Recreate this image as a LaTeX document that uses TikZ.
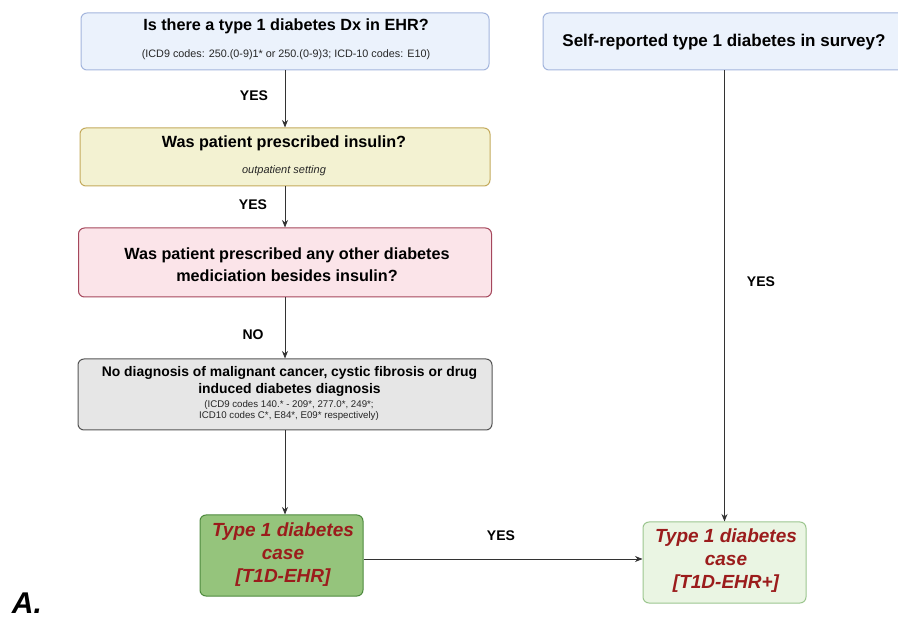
\documentclass[tikz,border=0pt]{standalone}
\usepackage{fontspec}
\setmainfont{Liberation Sans}
\usetikzlibrary{arrows.meta}
\definecolor{bfill}{HTML}{EBF2FC}
\definecolor{bdraw}{HTML}{A3B5DD}
\definecolor{yfill}{HTML}{F3F2D2}
\definecolor{ydraw}{HTML}{C4AA5C}
\definecolor{pfill}{HTML}{FBE4E9}
\definecolor{pdraw}{HTML}{A5475C}
\definecolor{gfill}{HTML}{E6E6E6}
\definecolor{gdraw}{HTML}{555555}
\definecolor{dgfill}{HTML}{95C47C}
\definecolor{dgdraw}{HTML}{4E8A3E}
\definecolor{lgfill}{HTML}{EAF5E3}
\definecolor{lgdraw}{HTML}{9CC68F}
\definecolor{casered}{HTML}{9B1C1C}
\definecolor{linec}{HTML}{333333}
\tikzset{
  boxbase/.style={rounded corners=6pt, line width=1pt, inner sep=0pt},
  titletxt/.style={font=\bfseries\fontsize{16.2}{22}\selectfont, align=center, inner sep=0pt, text=black},
  subtxt/.style={font=\fontsize{10.8}{13}\selectfont, align=center, inner sep=0pt, text=black!85},
  casetxt/.style={font=\bfseries\itshape\fontsize{19}{23}\selectfont, align=center, inner sep=0pt, text=casered},
  lbl/.style={font=\bfseries\fontsize{14}{16}\selectfont, inner sep=0pt},
  arr/.style={draw=linec, line width=0.9pt, -{Stealth[length=7.5pt,width=6pt]}},
}
\begin{document}
\begin{tikzpicture}[x=1pt,y=-1pt]
\useasboundingbox (0,0) rectangle (898,620);
\clip (0,0) rectangle (898,620);
% boxes
\node[boxbase, draw=bdraw, fill=bfill, minimum width=408, minimum height=57] (q1) at (285,41.5) {};
\node[titletxt] (q1t) at (286,26) {Is there a type 1 diabetes Dx in EHR?};
\node[subtxt] (q1s) at (286,55) {(ICD9 codes: 250.(0-9)1* or 250.(0-9)3; ICD-10 codes: E10)};

\node[boxbase, draw=ydraw, fill=yfill, minimum width=410, minimum height=58] (q2) at (285,157) {};
\node[titletxt] (q2t) at (284,143) {Was patient prescribed insulin?};
\node[subtxt, font=\itshape\fontsize{11}{13}\selectfont] (q2s) at (284,171) {outpatient setting};

\node[boxbase, draw=pdraw, fill=pfill, minimum width=413, minimum height=69] (q3) at (285,262.5) {};
\node[titletxt] (q3t) at (287,265) {Was patient prescribed any other diabetes\\mediciation besides insulin?};

\node[boxbase, draw=gdraw, fill=gfill, minimum width=414, minimum height=71] (q4) at (285,394.5) {};
\node[titletxt, font=\bfseries\fontsize{13.9}{17}\selectfont] (q4t) at (289.5,381) {No diagnosis of malignant cancer, cystic fibrosis or drug\\induced diabetes diagnosis};
\node[subtxt, font=\fontsize{9.7}{10.5}\selectfont] (q4s) at (289,410.5) {(ICD9 codes 140.* - 209*, 277.0*, 249*;\\ICD10 codes C*, E84*, E09* respectively)};

\node[boxbase, draw=dgdraw, fill=dgfill, minimum width=163, minimum height=81] (g1) at (281.5,555.5) {};
\node[casetxt] (g1t) at (283,555) {Type 1 diabetes\\case\\{}[T1D-EHR]};

\node[boxbase, draw=bdraw, fill=bfill, minimum width=366, minimum height=57] (sr) at (726,41.5) {};
\node[titletxt, font=\bfseries\fontsize{17}{20}\selectfont] (srt) at (724,42) {Self-reported type 1 diabetes in survey?};

\node[boxbase, draw=lgdraw, fill=lgfill, minimum width=163, minimum height=81] (g2) at (724.5,562.5) {};
\node[casetxt] (g2t) at (726,561) {Type 1 diabetes\\case\\{}[T1D-EHR+]};

% connectors
\draw[arr] (q1.south) -- (q2.north);
\draw[arr] (q2.south) -- (q3.north);
\draw[arr] (q3.south) -- (q4.north);
\draw[arr] (q4.south) -- (q4.south |- g1.north);
\draw[arr] ([yshift=-3.5pt]g1.east) -- ([yshift=-3.5pt]g1.east -| g2.west);
\draw[arr] (g2.north |- sr.south) -- (g2.north);

% labels
\node[lbl] (l1) at (254,96) {YES};
\node[lbl] (l2) at (253,205) {YES};
\node[lbl] (l3) at (253,335) {NO};
\node[lbl] (l4) at (761,282) {YES};
\node[lbl] (l5) at (501,536) {YES};
\node[font=\bfseries\itshape\fontsize{30}{32}\selectfont, inner sep=0pt] (lA) at (27,603) {A.};
\end{tikzpicture}
\end{document}
